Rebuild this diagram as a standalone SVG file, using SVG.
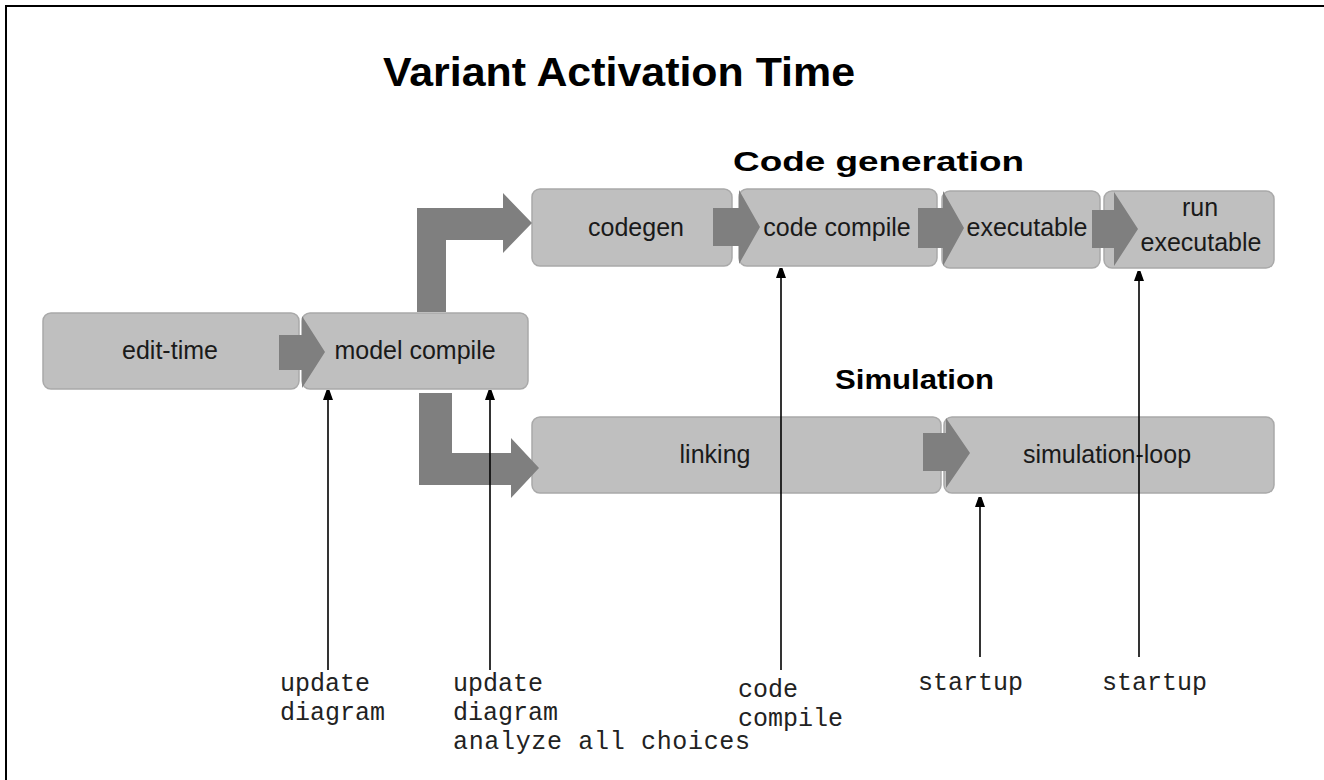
<svg xmlns="http://www.w3.org/2000/svg" width="1324" height="780" viewBox="0 0 1324 780">
<defs>
<style>
.box{fill:#bfbfbf;stroke:#a9a9a9;stroke-width:1.5}
.flow{fill:#7f7f7f}
.lbl{font-family:"Liberation Sans",Arial,sans-serif;font-size:25px;fill:#1a1a1a;text-anchor:middle}
.head{font-family:"Liberation Sans",Arial,sans-serif;font-weight:bold;fill:#000}
.mono{font-family:"Liberation Mono","Courier New",monospace;font-size:25px;fill:#222}
.ptr{stroke:#000;stroke-width:1.6;fill:none;marker-end:url(#ah)}
</style>
<marker id="ah" viewBox="0 0 10 14" refX="10" refY="5" markerWidth="10" markerHeight="14" markerUnits="userSpaceOnUse" orient="auto">
<path d="M0,0 L10,5 L0,10 Z" fill="#000" transform="scale(1.4,1)"/>
</marker>
</defs>
<rect width="1324" height="780" fill="#fff"/>
<path d="M6,780 V6 H1324" fill="none" stroke="#000" stroke-width="2"/>
<text class="head" x="383" y="86" font-size="40" textLength="472" lengthAdjust="spacingAndGlyphs">Variant Activation Time</text>
<text class="head" x="733" y="171" font-size="27" textLength="291" lengthAdjust="spacingAndGlyphs">Code generation</text>
<text class="head" x="835" y="389" font-size="27" textLength="159" lengthAdjust="spacingAndGlyphs">Simulation</text>

<g id="edit-time"><rect class="box" x="43" y="313" width="256" height="76" rx="8"/><text class="lbl" x="170" y="359">edit-time</text></g>
<g id="model-compile"><rect class="box" x="302" y="313" width="226" height="76" rx="8"/><text class="lbl" x="415" y="359">model compile</text></g>
<g id="codegen"><rect class="box" x="532" y="189" width="200" height="77" rx="8"/><text class="lbl" x="636" y="236">codegen</text></g>
<g id="code-compile"><rect class="box" x="739" y="189" width="198" height="77" rx="8"/><text class="lbl" x="837" y="236">code compile</text></g>
<g id="executable"><rect class="box" x="942" y="191" width="158" height="77" rx="8"/><text class="lbl" x="1027" y="236">executable</text></g>
<g id="run-executable"><rect class="box" x="1104" y="191" width="170" height="77" rx="8"/><text class="lbl" x="1200" y="216">run</text><text class="lbl" x="1201" y="251">executable</text></g>
<g id="linking"><rect class="box" x="532" y="417" width="409" height="76" rx="8"/><text class="lbl" x="715" y="463">linking</text></g>
<g id="simulation-loop"><rect class="box" x="944" y="417" width="330" height="76" rx="8"/><text class="lbl" x="1107" y="463">simulation-loop</text></g>

<g id="flows">
<path class="flow" d="M279,335 H302 V316 L325,352 L302,388 V370 H279 Z"/>
<path class="flow" d="M417,312 V208 H503 V193 L532,223 L503,253 V240 H446 V312 Z"/>
<path class="flow" d="M419,393 H452 V453 H511 V438 L539,468 L511,498 V485 H419 Z"/>
<path class="flow" d="M713,208 H739 V190 L760,227 L739,264 V246 H713 Z"/>
<path class="flow" d="M918,208 H943 V191 L964,228 L943,266 V248 H918 Z"/>
<path class="flow" d="M1092,210 H1114 V192 L1138,229 L1114,266 V248 H1092 Z"/>
<path class="flow" d="M923,433 H946 V418 L970,453 L946,488 V471 H923 Z"/>
</g>

<g id="connectors">
<line class="ptr" x1="328" y1="670" x2="328" y2="390"/>
<line class="ptr" x1="490" y1="670" x2="490" y2="390"/>
<line class="ptr" x1="781" y1="670" x2="781" y2="268"/>
<line class="ptr" x1="980" y1="657" x2="980" y2="497"/>
<line class="ptr" x1="1139" y1="657" x2="1139" y2="271"/>
</g>

<g id="labels">
<text class="mono" x="280" y="691">update</text>
<text class="mono" x="280" y="720">diagram</text>
<text class="mono" x="453" y="691">update</text>
<text class="mono" x="453" y="720">diagram</text>
<text class="mono" x="453" y="749" textLength="297">analyze all choices</text>
<text class="mono" x="738" y="697">code</text>
<text class="mono" x="738" y="726">compile</text>
<text class="mono" x="918" y="690">startup</text>
<text class="mono" x="1102" y="690">startup</text>
</g>
</svg>
